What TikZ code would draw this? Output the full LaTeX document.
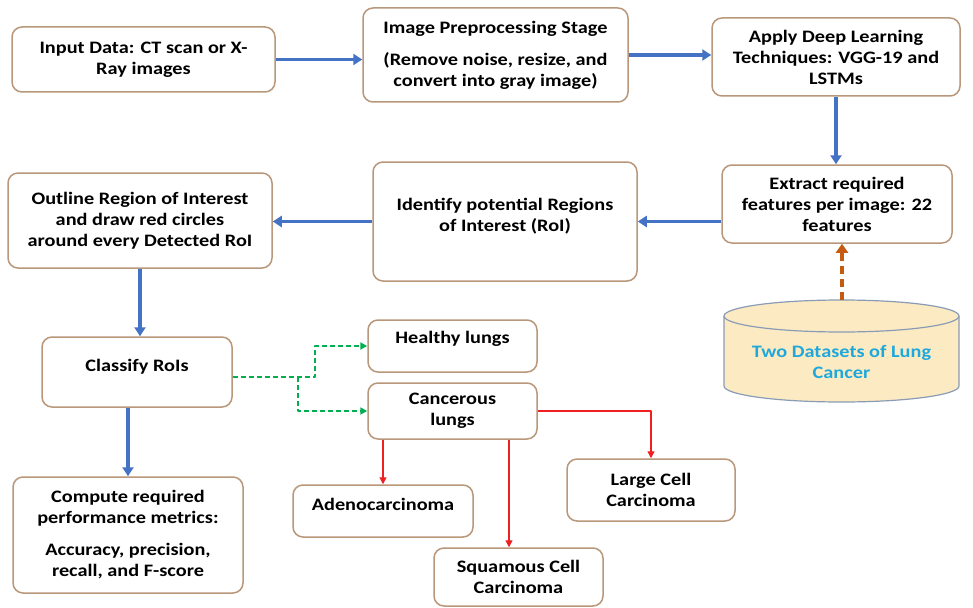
\documentclass[tikz,border=0pt]{standalone}
\usepackage{fontspec}
\setmainfont{Carlito}[FakeStretch=1.16]
\usetikzlibrary{arrows.meta}
\definecolor{boxline}{HTML}{B8977A}
\definecolor{arrblue}{HTML}{4472C4}
\definecolor{arrgreen}{HTML}{00B050}
\definecolor{arrred}{HTML}{F02020}
\definecolor{arrorange}{HTML}{C55A11}
\definecolor{dbfill}{HTML}{FCEBC2}
\definecolor{dbline}{HTML}{8A9BB5}
\definecolor{dbtext}{HTML}{1FA8DC}
\begin{document}
\begin{tikzpicture}[x=1pt,y=-1pt,line join=round,font=\fontsize{17.5}{21}\selectfont\bfseries,
 box/.style={draw=boxline,line width=1.5pt,rounded corners=10pt,fill=white,align=center,inner sep=2pt},
 bluearr/.style={draw=arrblue,line width=3.5pt,-{Triangle[length=9pt,width=11pt]}},
 greenarr/.style={draw=arrgreen,line width=1.8pt,dash pattern=on 5pt off 3pt,-{Triangle[length=7pt,width=7pt]}},
 redarr/.style={draw=arrred,line width=1.4pt,-{Triangle[length=7pt,width=7pt]}},
 orangearr/.style={draw=arrorange,line width=3.5pt,dash pattern=on 8pt off 5pt,-{Triangle[length=9pt,width=12pt]}}]
\useasboundingbox (0,0) rectangle (973,607);
% boxes
\node[box,minimum width=263pt,minimum height=65pt] (input) at (143.5,59.5) {Input Data: CT scan or X-\\Ray images};
\node[box,minimum width=265pt,minimum height=94pt] (pre) at (495.5,55) {Image Preprocessing Stage\\[11pt](Remove noise, resize, and\\convert into gray image)};
\node[box,minimum width=248pt,minimum height=78pt] (apply) at (836,57) {Apply Deep Learning\\Techniques: VGG-19 and\\LSTMs};
\node[box,minimum width=230pt,minimum height=78pt] (extract) at (837,204) {Extract required\\features per image: 22\\features};
\node[box,minimum width=264pt,minimum height=119pt,text depth=14pt] (identify) at (505,221.5) {Identify potential Regions\\of Interest (RoI)};
\node[box,minimum width=264pt,minimum height=95pt] (outline) at (140,220.5) {Outline Region of Interest\\and draw red circles\\around every Detected RoI};
\node[box,minimum width=190pt,minimum height=70pt,text depth=14pt] (classify) at (137,372) {Classify RoIs};
\node[box,minimum width=230pt,minimum height=116pt] (compute) at (128,535) {Compute required\\performance metrics:\\[11pt]Accuracy, precision,\\recall, and F-score};
\node[box,minimum width=169pt,minimum height=52pt,text depth=18pt] (healthy) at (452.5,346) {Healthy lungs};
\node[box,minimum width=169pt,minimum height=56pt] (cancer) at (452.5,411) {Cancerous\\lungs};
\node[box,minimum width=180pt,minimum height=52pt,text depth=13pt] (adeno) at (383,511) {Adenocarcinoma};
\node[box,minimum width=169pt,minimum height=58pt] (squam) at (518.5,577) {Squamous Cell\\Carcinoma};
\node[box,minimum width=168pt,minimum height=62pt] (large) at (651,490) {Large Cell\\Carcinoma};
% database
\fill[dbfill] (724,316) -- (724,386) arc[start angle=180,end angle=0,x radius=117.5,y radius=16] -- (959,316) -- cycle;
\draw[dbline,line width=1.2pt] (724,316) -- (724,386) arc[start angle=180,end angle=0,x radius=117.5,y radius=16] -- (959,316);
\draw[dbline,line width=1.2pt,fill=dbfill] (841.5,316) ellipse [x radius=117.5,y radius=16];
\node[text=dbtext,align=center] (db) at (841.5,362) {Two Datasets of Lung\\Cancer};
\coordinate (dbtop) at (842,300);
% arrows
\draw[bluearr] (input.east) -- (input.east -| pre.west);
\draw[bluearr] (pre.east) -- (pre.east -| apply.west);
\draw[bluearr] (apply.south) -- (apply.south |- extract.north);
\draw[bluearr] (extract.west |- identify.east) -- (identify.east);
\draw[bluearr] (identify.west) -- (identify.west -| outline.east);
\draw[bluearr] (outline.south) -- (outline.south |- classify.north);
\draw[bluearr] (classify.south -| compute.north) -- (compute.north);
\draw[orangearr] (dbtop) -- (dbtop |- extract.south);
\coordinate (gsplit) at (315,377);
\coordinate (gdown) at (298,377);
\draw[greenarr] ([yshift=-5pt]classify.east) -- (gsplit) |- (healthy.west);
\draw[greenarr] (gdown) |- (cancer.west);
\draw[redarr] (adeno.north |- cancer.south) -- (adeno.north);
\draw[redarr] ([xshift=-9.5pt]squam.north |- cancer.south) -- ([xshift=-9.5pt]squam.north);
\draw[redarr] (cancer.east) -| (large.north);
\end{tikzpicture}
\end{document}
